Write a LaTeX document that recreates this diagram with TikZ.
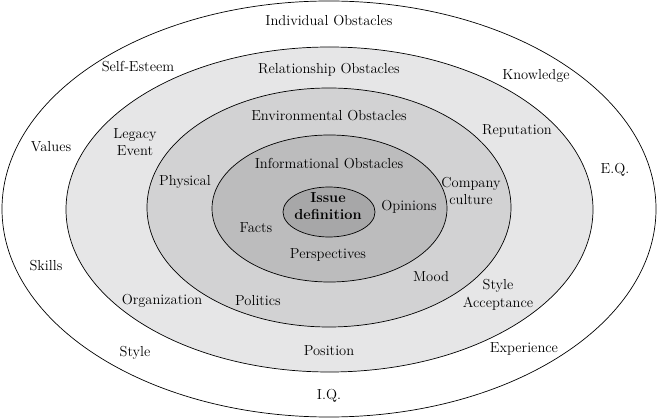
\documentclass[tikz,border=0pt]{standalone}
\definecolor{ringA}{HTML}{E6E6E7}
\definecolor{ringB}{HTML}{D2D2D3}
\definecolor{ringC}{HTML}{BCBCBD}
\definecolor{ringD}{HTML}{A7A7A8}
\begin{document}
\begin{tikzpicture}[x=1pt,y=-1pt,
  ring/.style={draw=black,line width=0.7pt},
  lbl/.style={font=\fontsize{14.5}{17.5}\selectfont,align=center,inner sep=0pt},
  blbl/.style={font=\fontsize{14.5}{17.5}\selectfont\bfseries,align=center,inner sep=0pt}]
\useasboundingbox (0,0) rectangle (658,419);
\fill[white] (0,0) rectangle (658,419);
\draw[ring,fill=white] (329,209) ellipse [x radius=327,y radius=208];
\draw[ring,fill=ringA] (329.5,209.5) ellipse [x radius=263.5,y radius=162.5];
\draw[ring,fill=ringB] (329,207.5) ellipse [x radius=182,y radius=119.5];
\draw[ring,fill=ringC] (329.5,208.5) ellipse [x radius=117.5,y radius=73.5];
\draw[ring,fill=ringD] (329,212) ellipse [x radius=46,y radius=25];
% labels
\node[lbl] (ind) at (329,21) {Individual Obstacles};
\node[lbl] (se) at (138,67) {Self-Esteem};
\node[lbl] (rel) at (329,70) {Relationship Obstacles};
\node[lbl] (kn) at (536,76) {Knowledge};
\node[lbl] (leg) at (135,142) {Legacy\\Event};
\node[lbl] (val) at (51,147) {Values};
\node[lbl] (env) at (329,116) {Environmental Obstacles};
\node[lbl] (rep) at (517,131) {Reputation};
\node[lbl] (eq) at (615,170) {E.Q.};
\node[lbl] (inf) at (329,164) {Informational Obstacles};
\node[lbl] (phy) at (185,182) {Physical};
\node[lbl] (cc) at (471,191) {Company\\culture};
\node[blbl] (iss) at (328,206) {Issue\\definition};
\node[lbl] (op) at (409,207) {Opinions};
\node[lbl] (fa) at (256,228) {Facts};
\node[lbl] (per) at (328,255) {Perspectives};
\node[lbl] (sk) at (46,266) {Skills};
\node[lbl] (mo) at (431,277) {Mood};
\node[lbl] (sa) at (498,295) {Style\\Acceptance};
\node[lbl] (org) at (162,301) {Organization};
\node[lbl] (pol) at (258,301) {Politics};
\node[lbl] (sty) at (135,353) {Style};
\node[lbl] (pos) at (329,351) {Position};
\node[lbl] (exp) at (524,349) {Experience};
\node[lbl] (iq) at (329,396) {I.Q.};
\end{tikzpicture}
\end{document}
